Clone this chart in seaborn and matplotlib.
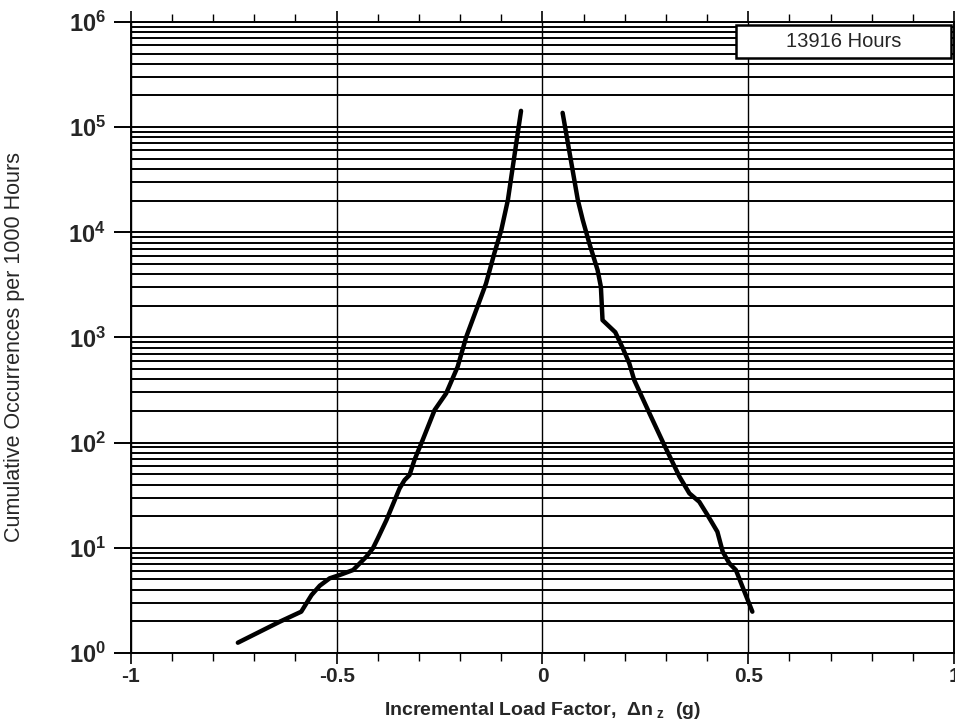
import matplotlib
matplotlib.use("Agg")
import matplotlib.pyplot as plt
import matplotlib.ticker as mticker
from matplotlib.patches import Rectangle
import numpy as np
import pandas as pd
import seaborn as sns

# Negative side (load factor, cumulative occurrences per 1000 h)
neg_x = [-0.052, -0.084, -0.100, -0.117, -0.137, -0.161, -0.185, -0.206, -0.234,
         -0.262, -0.291, -0.311, -0.323, -0.335, -0.347, -0.379, -0.400, -0.412,
         -0.428, -0.460, -0.493, -0.517, -0.541, -0.561, -0.586, -0.638, -0.740]
neg_logy = [5.155, 4.306, 4.021, 3.799, 3.514, 3.260, 3.007, 2.722, 2.468,
            2.310, 2.025, 1.835, 1.692, 1.644, 1.566, 1.264, 1.090, 0.995,
            0.915, 0.789, 0.741, 0.710, 0.640, 0.551, 0.393, 0.298, 0.098]

# Positive side
pos_x = [0.049, 0.086, 0.098, 0.114, 0.134, 0.142, 0.146, 0.163, 0.177, 0.195,
         0.211, 0.223, 0.260, 0.296, 0.333, 0.357, 0.381, 0.401, 0.425, 0.438,
         0.454, 0.470, 0.486, 0.502, 0.510]
pos_logy = [5.136, 4.306, 4.116, 3.894, 3.641, 3.482, 3.165, 3.102, 3.050, 2.900,
            2.754, 2.595, 2.279, 1.977, 1.676, 1.518, 1.438, 1.312, 1.153, 0.963,
            0.853, 0.789, 0.630, 0.472, 0.393]

x_ticks = [-1, -0.5, 0, 0.5, 1]
x_tick_labels = ["-1", "-0.5", "0", "0.5", "1"]
legend_text = "13916 Hours"

sns.set_theme(style="white")
plt.rcParams['font.family'] = ['Liberation Sans', 'DejaVu Sans']
plt.rcParams['mathtext.fontset'] = 'custom'
plt.rcParams['mathtext.rm'] = 'Liberation Sans:bold'
plt.rcParams['mathtext.it'] = 'Liberation Sans:bold'
plt.rcParams['mathtext.bf'] = 'Liberation Sans:bold'

df_neg = pd.DataFrame({"x": neg_x, "y": 10 ** np.array(neg_logy)})
df_pos = pd.DataFrame({"x": pos_x, "y": 10 ** np.array(pos_logy)})

fig = plt.figure(figsize=(9.55, 7.25), dpi=100)
ax = fig.add_axes([0.137, 0.0993, 0.862, 0.8704])

ax.set_yscale("log")
ax.set_xlim(-1, 1)
ax.set_ylim(1, 1e6)

# grid
ax.yaxis.set_major_locator(mticker.LogLocator(base=10, numticks=10))
ax.yaxis.set_minor_locator(mticker.LogLocator(base=10, subs=np.arange(2, 10), numticks=20))
ax.yaxis.set_minor_formatter(mticker.NullFormatter())
ax.grid(True, which="both", axis="y", color="black", linewidth=1.4)
ax.set_xticks(x_ticks)
ax.set_xticklabels(x_tick_labels)
ax.xaxis.set_minor_locator(mticker.MultipleLocator(0.1))
ax.grid(True, which="major", axis="x", color="black", linewidth=1.0)

sns.lineplot(data=df_neg, x="x", y="y", ax=ax, color="black", linewidth=3.2, sort=False)
sns.lineplot(data=df_pos, x="x", y="y", ax=ax, color="black", linewidth=3.2, sort=False)

for s in ax.spines.values():
    s.set_color("black")
    s.set_linewidth(1.4)

ax.tick_params(axis="x", which="major", direction="out", length=8, width=1.2,
               bottom=True, top=True, labelsize=15, color="black", pad=2)
ax.tick_params(axis="x", which="minor", direction="out", length=6, width=1.0,
               bottom=True, top=True, color="black")
ax.tick_params(axis="y", which="major", direction="out", length=12, width=1.4,
               left=True, right=False, labelsize=17, color="black", pad=6)
ax.tick_params(axis="y", which="minor", length=0)
fig.canvas.draw()
for lab in ax.get_xticklabels() + ax.get_yticklabels():
    lab.set_fontweight("bold")

ax.set_xlabel(r"Incremental Load Factor,  $\Delta$n$_{\ \mathregular{z}}$  (g)",
              fontsize=14, fontweight="bold", labelpad=10)
ax.set_ylabel("Cumulative Occurrences per 1000 Hours", fontsize=15.5, labelpad=22)
ax.yaxis.set_label_coords(-0.128, 0.485)

# legend-like box
ax.add_patch(Rectangle((0.735, 0.943), 0.2615, 0.052, transform=ax.transAxes,
                       facecolor="white", edgecolor="black", linewidth=1.8,
                       zorder=5, clip_on=False))
ax.text(0.866, 0.969, legend_text, transform=ax.transAxes, ha="center", va="center",
        fontsize=14.5, zorder=6)

fig.savefig("out.png", dpi=100)
